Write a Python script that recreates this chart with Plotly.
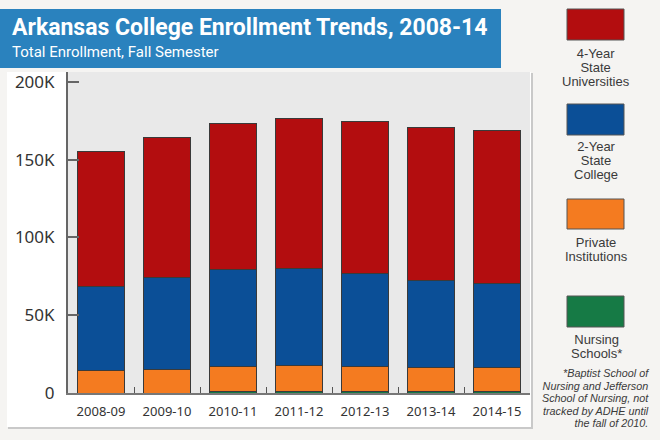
import plotly.graph_objects as go

years = ["2008-09", "2009-10", "2010-11", "2011-12", "2012-13", "2013-14", "2014-15"]
nursing = [0, 0, 1000, 1000, 1000, 900, 900]
private = [14300, 15000, 15900, 16800, 15900, 15200, 15600]
two_year = [54500, 59400, 62200, 62100, 60100, 56100, 54000]
four_year = [86300, 90200, 94100, 96700, 97700, 98200, 98200]

tick_vals = [0, 50000, 100000, 150000, 200000]
tick_text = ["0", "50K", "100K", "150K", "200K"]

footnote_lines = ["*Baptist School of", "Nursing and Jefferson", "School of Nursing, not",
                  "tracked by ADHE until", "the fall of 2010."]

RED = "#b30d0f"
BLUE = "#0b4f97"
ORANGE = "#f47b20"
GREEN = "#167a45"
OUTLINE = "#3a3a3a"

series = [
    ("Nursing Schools*", nursing, GREEN),
    ("Private Institutions", private, ORANGE),
    ("2-Year State College", two_year, BLUE),
    ("4-Year State Universities", four_year, RED),
]

fig = go.Figure()
for name, vals, col in series:
    fig.add_trace(go.Bar(
        x=years, y=vals, name=name,
        marker=dict(color=col, line=dict(color=OUTLINE, width=1)),
        showlegend=False, hoverinfo="x+y+name",
    ))

W, H = 660, 440
ML, MR, MT, MB = 68, 130, 72, 47
PW, PH = W - ML - MR, H - MT - MB

def px(x):
    return (x - ML) / PW
def py(y):
    return (H - MB - y) / PH

shapes = [
    dict(type="rect", xref="paper", yref="paper", layer="below",
         x0=px(8), x1=px(533), y0=py(429), y1=py(73),
         fillcolor="#c9c9c9", line=dict(width=0)),
    dict(type="rect", xref="paper", yref="paper", layer="below",
         x0=px(7), x1=px(531), y0=py(427), y1=py(72),
         fillcolor="#ffffff", line=dict(width=0)),
    dict(type="rect", xref="paper", yref="paper", layer="below",
         x0=px(68), x1=px(530), y0=py(393), y1=py(72),
         fillcolor="#e9e9e9", line=dict(width=0)),
    dict(type="rect", xref="paper", yref="paper", layer="below",
         x0=px(0), x1=px(501), y0=py(68), y1=py(9),
         fillcolor="#2a82be", line=dict(width=0)),
]

# (colour, box top, box bottom, label lines, centre y of label block)
legend_items = [
    (RED, 9, 40, ["4-Year", "State", "Universities"], 67.5),
    (BLUE, 104, 135, ["2-Year", "State", "College"], 160.7),
    (ORANGE, 199, 229, ["Private", "Institutions"], 249.8),
    (GREEN, 296, 327, ["Nursing", "Schools*"], 346.8),
]
annotations = []
for col, y0, y1, lines, yc in legend_items:
    shapes.append(dict(type="rect", xref="paper", yref="paper",
                       x0=px(567), x1=px(624), y0=py(y1), y1=py(y0),
                       fillcolor=col, line=dict(color="#555555", width=1)))
    annotations.append(dict(
        xref="paper", yref="paper", x=px(596), y=py(yc),
        xanchor="center", yanchor="middle", showarrow=False, align="center",
        text="<br>".join('<span style="font-size:13px">%s</span>' % l for l in lines),
        font=dict(family="Liberation Sans", size=10.8, color="#3a3a3a"),
    ))

annotations.append(dict(
    xref="paper", yref="paper", x=px(651), y=py(398),
    xanchor="right", yanchor="middle", showarrow=False, align="right",
    text="<br>".join('<span style="font-size:10.8px"><i>%s</i></span>' % l for l in footnote_lines),
    font=dict(family="Liberation Sans", size=9.7, color="#3a3a3a"),
))

annotations.append(dict(
    xref="paper", yref="paper", x=px(10), y=py(12),
    xanchor="left", yanchor="top", showarrow=False, align="left",
    text="<b>Arkansas College Enrollment Trends, 2008-14</b>",
    font=dict(family="Roboto", size=23, color="#ffffff"),
))
annotations.append(dict(
    xref="paper", yref="paper", x=px(10), y=py(41),
    xanchor="left", yanchor="top", showarrow=False, align="left",
    text="Total Enrollment, Fall Semester",
    font=dict(family="Roboto", size=15, color="#ffffff"),
))

fig.update_layout(
    width=W, height=H,
    barmode="stack", bargap=0.28,
    paper_bgcolor="#f5f4f2", plot_bgcolor="rgba(0,0,0,0)",
    margin=dict(l=ML, r=MR, t=MT, b=MB),
    shapes=shapes, annotations=annotations,
    xaxis=dict(
        type="category",
        showline=True, linecolor="#777777", linewidth=2,
        ticks="inside", tickson="boundaries", ticklen=6, tickcolor="#555555",
        tickfont=dict(family="Noto Sans", size=13, color="#333333"),
        showgrid=False, fixedrange=True, ticklabelstandoff=5,
    ),
    yaxis=dict(
        range=[0, 206400], tickvals=tick_vals, ticktext=tick_text,
        showline=True, linecolor="#666666", linewidth=2,
        ticks="inside", ticklen=11, tickcolor="#666666", tickwidth=2,
        tickfont=dict(family="Noto Sans", size=17, color="#333333"),
        showgrid=False, zeroline=False, fixedrange=True,
        ticklabelstandoff=8,
    ),
)

fig.write_html("out.html", config={"displayModeBar": False},
               post_script="document.body.style.margin='0';")
